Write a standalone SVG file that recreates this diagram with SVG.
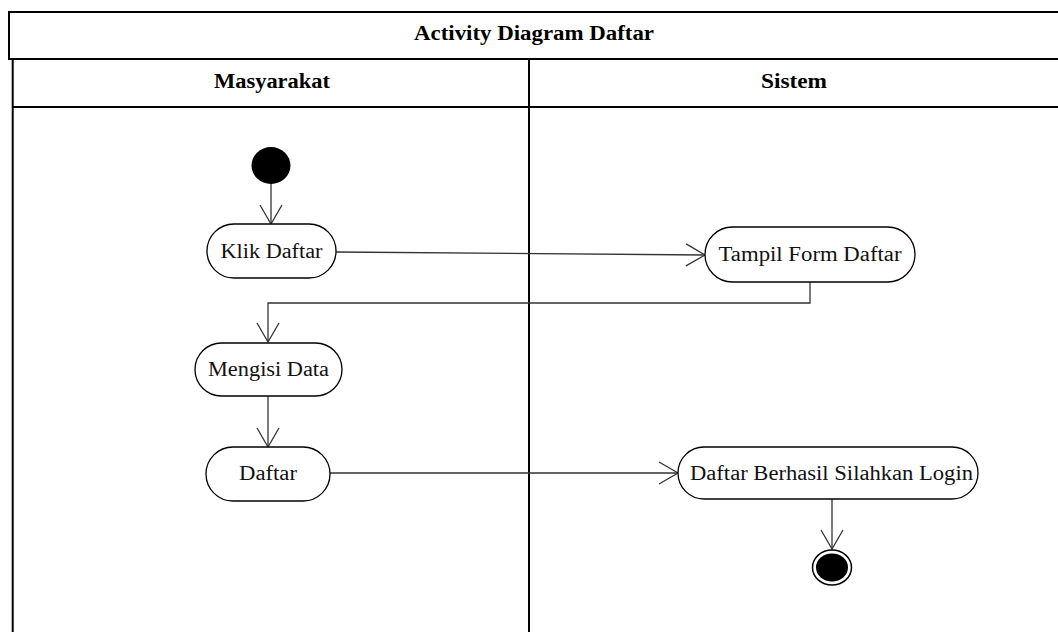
<svg xmlns="http://www.w3.org/2000/svg" width="1058" height="632" viewBox="0 0 1058 632">
  <style>
    .frame { fill: none; stroke: #000; stroke-width: 2; }
    .head { font-family: "Liberation Serif", "Times New Roman", serif; font-weight: bold; font-size: 20px; fill: #000; text-anchor: middle; }
    .act rect { fill: #fff; stroke: #000; stroke-width: 1.3; }
    .act text { font-family: "Liberation Serif", "Times New Roman", serif; font-size: 20px; fill: #111; text-anchor: middle; }
    .flow { fill: none; stroke: #333; stroke-width: 1.3; marker-end: url(#open); }
  </style>
  <defs>
    <marker id="open" viewBox="-21 -13 23 26" markerWidth="23" markerHeight="26" refX="0" refY="0" orient="auto" markerUnits="userSpaceOnUse">
      <path d="M-19,-11 L0,0 L-19,11" fill="none" stroke="#333" stroke-width="1.3"/>
    </marker>
  </defs>
  <rect width="1058" height="632" fill="#fff"/>

  <!-- swimlane frame -->
  <g id="frame">
    <path class="frame" d="M1060,12 H9 V59 H1060"/>
    <path class="frame" d="M12.7,59 V634 M529,59 V634 M12.7,107 H1060"/>
    <text class="head" x="534" y="40" textLength="240" lengthAdjust="spacingAndGlyphs">Activity Diagram Daftar</text>
    <text class="head" x="272" y="88" textLength="116" lengthAdjust="spacingAndGlyphs">Masyarakat</text>
    <text class="head" x="794" y="88" textLength="66" lengthAdjust="spacingAndGlyphs">Sistem</text>
  </g>

  <!-- connectors -->
  <g id="connectors">
    <path class="flow" d="M271,184 V224"/>
    <path class="flow" d="M336,252 L705,255"/>
    <path class="flow" d="M810,282 V303 H268 V342"/>
    <path class="flow" d="M268,396 V447"/>
    <path class="flow" d="M330,473 H678"/>
    <path class="flow" d="M832,499 V549"/>
  </g>

  <g id="start">
    <ellipse cx="271" cy="165.5" rx="19.5" ry="18.5" fill="#000"/>
  </g>

  <g id="klik-daftar" class="act">
    <rect x="207" y="224" width="129" height="54" rx="27" ry="27"/>
    <text x="271.5" y="258" textLength="102" lengthAdjust="spacingAndGlyphs">Klik Daftar</text>
  </g>

  <g id="tampil-form-daftar" class="act">
    <rect x="705" y="227" width="210" height="55" rx="27.5" ry="27.5"/>
    <text x="810" y="261" textLength="183" lengthAdjust="spacingAndGlyphs">Tampil Form Daftar</text>
  </g>

  <g id="mengisi-data" class="act">
    <rect x="195" y="343" width="147" height="53" rx="26.5" ry="26.5"/>
    <text x="268.5" y="376" textLength="121" lengthAdjust="spacingAndGlyphs">Mengisi Data</text>
  </g>

  <g id="daftar" class="act">
    <rect x="206" y="447" width="124" height="54" rx="27" ry="27"/>
    <text x="268" y="480" textLength="58" lengthAdjust="spacingAndGlyphs">Daftar</text>
  </g>

  <g id="daftar-berhasil" class="act">
    <rect x="678" y="447" width="300" height="52" rx="26" ry="26"/>
    <text x="831.5" y="480" textLength="283" lengthAdjust="spacingAndGlyphs">Daftar Berhasil Silahkan Login</text>
  </g>

  <g id="end">
    <ellipse cx="832" cy="567.5" rx="19.5" ry="17.5" fill="#fff" stroke="#000" stroke-width="1.5"/>
    <ellipse cx="832" cy="567.5" rx="16" ry="14" fill="#000"/>
  </g>
</svg>
